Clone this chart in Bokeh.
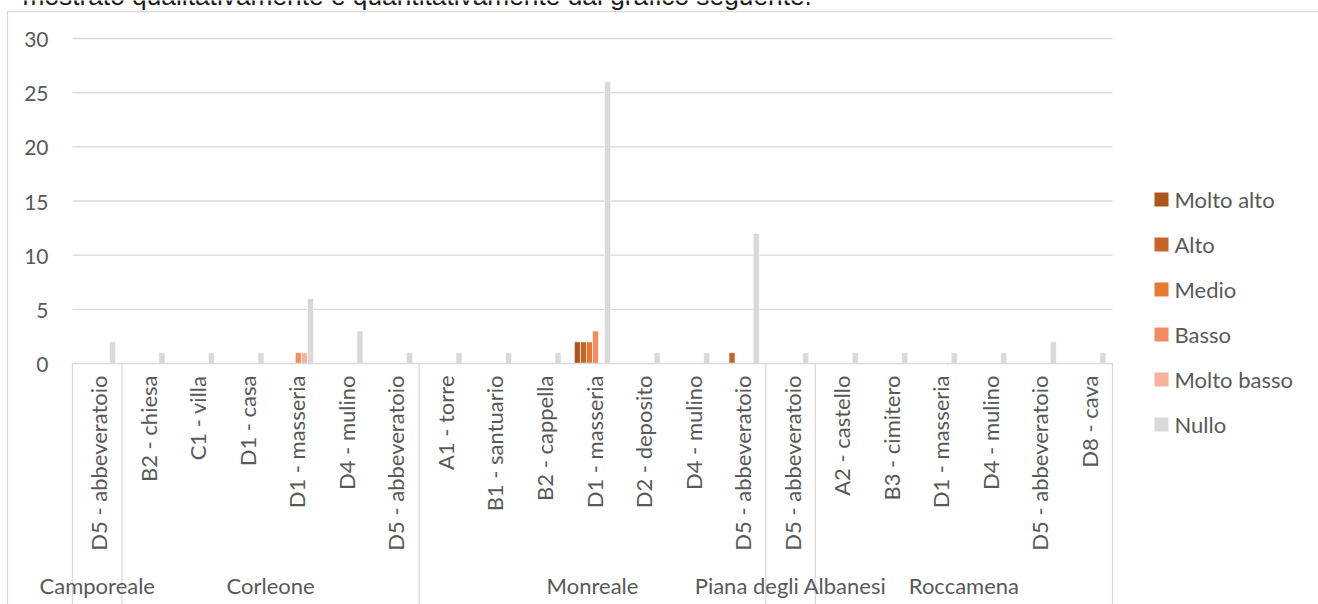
import math
from bokeh.plotting import figure
from bokeh.models import ColumnDataSource, Range1d
from bokeh.core.properties import value
from bokeh.embed import file_html
from bokeh.resources import INLINE

# ---------------- data ----------------
comuni = ["Camporeale", "Corleone", "Monreale", "Piana degli Albanesi", "Roccamena"]
elementi = [
    ["D5 - abbeveratoio"],
    ["B2 - chiesa", "C1 - villa", "D1 - casa", "D1 - masseria", "D4 - mulino", "D5 - abbeveratoio"],
    ["A1 - torre", "B1 - santuario", "B2 - cappella", "D1 - masseria", "D2 - deposito",
     "D4 - mulino", "D5 - abbeveratoio"],
    ["D5 - abbeveratoio"],
    ["A2 - castello", "B3 - cimitero", "D1 - masseria", "D4 - mulino", "D5 - abbeveratoio", "D8 - cava"],
]
serie = ["Molto alto", "Alto", "Medio", "Basso", "Molto basso", "Nullo"]
colori = ["#AB561F", "#C6652A", "#E27A33", "#F08D63", "#F4B39A", "#D9D9D9"]

molto_alto  = [0, 0, 0, 0, 0, 0, 0, 0, 0, 0, 2, 0, 0, 0, 0, 0, 0, 0, 0, 0, 0]
alto        = [0, 0, 0, 0, 0, 0, 0, 0, 0, 0, 2, 0, 0, 1, 0, 0, 0, 0, 0, 0, 0]
medio       = [0, 0, 0, 0, 0, 0, 0, 0, 0, 0, 2, 0, 0, 0, 0, 0, 0, 0, 0, 0, 0]
basso       = [0, 0, 0, 0, 1, 0, 0, 0, 0, 0, 3, 0, 0, 0, 0, 0, 0, 0, 0, 0, 0]
molto_basso = [0, 0, 0, 0, 1, 0, 0, 0, 0, 0, 0, 0, 0, 0, 0, 0, 0, 0, 0, 0, 0]
nullo       = [2, 1, 1, 1, 6, 3, 1, 1, 1, 1, 26, 1, 1, 12, 1, 1, 1, 1, 1, 2, 1]
valori = [molto_alto, alto, medio, basso, molto_basso, nullo]

y_ticks = [0, 5, 10, 15, 20, 25, 30]
titolo = "mostrato qualitativamente e quantitativamente dal grafico seguente."

# ---------------- layout ----------------
W, H = 1318, 604
OX, OY = 0, 0            # page position of the canvas
PL, PR, PT, PB = 72, 1112, 38, 363   # plot area in page pixels
n_cat = sum(len(e) for e in elementi)
CW = (PR - PL) / n_cat
YS = (PB - PT) / (y_ticks[-1] - y_ticks[0])


def px2x(px):
    return (px - PL) / CW


def py2y(py):
    return (PB - py) / YS


FONT = value("Lato")
GREY_TXT = "#595959"
LINE = "#D9D9D9"

p = figure(width=W, height=H, output_backend="svg", toolbar_location=None,
           x_range=Range1d(px2x(OX), px2x(OX + W)),
           y_range=Range1d(py2y(OY + H), py2y(OY)),
           x_axis_location=None, y_axis_location=None,
           min_border=0, outline_line_color=None)
p.grid.visible = False
p.background_fill_color = "white"
p.border_fill_color = "white"

# chart border (light frame of the Excel chart area)
p.segment(x0=[px2x(7), px2x(7)], y0=[py2y(11), py2y(11)],
          x1=[px2x(7), px2x(W + 5)], y1=[py2y(H + 5), py2y(11)],
          line_color=LINE, line_width=1.3)

# cut-off document text at the top
p.text(x=[px2x(22)], y=[py2y(-4.6)], text=[titolo], text_font=value("Liberation Sans"),
       text_font_size="26.3px", text_color="#1a1a1a", text_align="left",
       text_baseline="alphabetic")

# horizontal gridlines
grid_t = [t for t in y_ticks if t != 0]
p.segment(x0=[0] * len(grid_t), x1=[n_cat] * len(grid_t), y0=grid_t, y1=grid_t,
          line_color=LINE, line_width=1.3)

# y tick labels
p.text(x=[px2x(48)] * len(y_ticks), y=y_ticks, text=[str(t) for t in y_ticks],
       text_font=FONT, text_font_size="21px", text_color=GREY_TXT,
       text_align="right", text_baseline="alphabetic", y_offset=1)

# bars (clustered, gap width 219%)
gap = 2.19
slot = 1.0 / (len(serie) + gap)
for j, (nome, col, vals) in enumerate(zip(serie, colori, valori)):
    xs, tops = [], []
    for i, v in enumerate(vals):
        if v > 0:
            xs.append(i + (gap / 2 + j + 0.5) * slot)
            tops.append(v)
    src = ColumnDataSource(dict(x=xs, top=tops))
    p.vbar(x="x", top="top", bottom=0, width=slot, source=src,
           fill_color=col, line_color="white", line_width=0.6)

# category axis line
p.segment(x0=[0], x1=[n_cat], y0=[0], y1=[0], line_color=LINE, line_width=1.3)

# group separators
bounds = [0]
for e in elementi:
    bounds.append(bounds[-1] + len(e))
p.segment(x0=bounds, x1=bounds, y0=[0] * len(bounds), y1=[py2y(H + 5)] * len(bounds),
          line_color=LINE, line_width=1.3)

# inner category labels (vertical)
labels = [lab for e in elementi for lab in e]
p.text(x=[i + 0.5 for i in range(n_cat)], y=[py2y(375)] * n_cat, text=labels,
       angle=math.pi / 2, text_font=FONT, text_font_size="22px", text_color=GREY_TXT,
       text_align="right", text_baseline="alphabetic", x_offset=1.5)

# group labels
centers = [(bounds[k] + bounds[k + 1]) / 2 for k in range(len(comuni))]
p.text(x=centers, y=[py2y(585)] * len(comuni), text=comuni,
       text_font=FONT, text_font_size="22px", text_color=GREY_TXT,
       text_align="center", text_baseline="alphabetic")

# legend
ly = [199 + 45 * k for k in range(len(serie))]
p.rect(x=[px2x(1161)] * len(serie), y=[py2y(v) for v in ly], width=14, height=14,
       width_units="screen", height_units="screen", fill_color=colori, line_color=None)
p.text(x=[px2x(1174)] * len(serie), y=[py2y(v - 0.5) for v in ly], text=serie,
       text_font=FONT, text_font_size="22px", text_color=GREY_TXT,
       text_align="left", text_baseline="alphabetic")

open("out.html", "w").write(file_html(p, INLINE))
